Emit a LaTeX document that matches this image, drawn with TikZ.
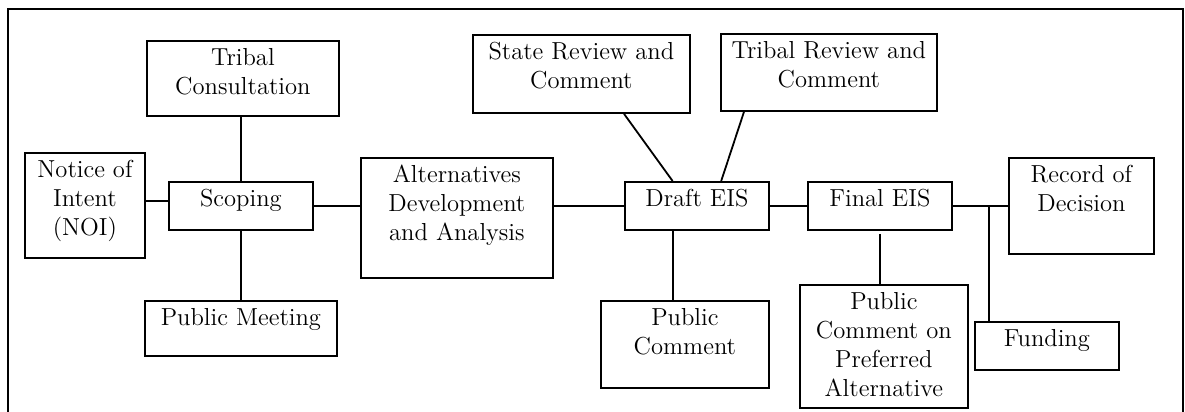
\documentclass[tikz,border=0pt]{standalone}
\usetikzlibrary{calc}
\tikzset{
  stage/.style={draw, line width=0.9pt, inner sep=0pt, anchor=north west,
    font=\fontsize{12.3}{14.5}\selectfont},
  link/.style={line width=0.9pt}
}
\newcommand{\stagetext}[3]{\parbox[c][#2][t]{#1}{\centering\vspace*{2pt}\strut #3\par}}
\begin{document}
\begin{tikzpicture}[x=0.5pt,y=-0.5pt]
\useasboundingbox (0,0) rectangle (1185,412);
\draw[line width=1.2pt] (8,412) -- (8,9) -- (1183,9) -- (1183,412);
% scoping stage
\node[stage] (tc) at (146,40) {\stagetext{96pt}{37.5pt}{Tribal\\Consultation}};
\node[stage] (noi) at (24,152) {\stagetext{60pt}{52.5pt}{Notice of\\Intent\\(NOI)}};
\node[stage] (scop) at (168,181) {\stagetext{72pt}{24pt}{Scoping}};
\node[stage] (pm) at (144,300) {\stagetext{96pt}{27.5pt}{Public Meeting}};
\node[stage] (alt) at (360,157) {\stagetext{96pt}{60pt}{Alternatives\\Development\\and Analysis}};
% draft stage
\node[stage] (srev) at (472,34) {\stagetext{108.5pt}{39pt}{State Review and\\Comment}};
\node[stage] (trev) at (720,33) {\stagetext{108pt}{38.5pt}{Tribal Review and\\Comment}};
\node[stage] (deis) at (624,181) {\stagetext{72pt}{24pt}{Draft EIS}};
\node[stage] (pc) at (600,300) {\stagetext{84pt}{43.5pt}{Public\\Comment}};
% final stage
\node[stage] (feis) at (807,181) {\stagetext{72pt}{24pt}{Final EIS}};
\node[stage] (pcpa) at (799,284) {\stagetext{84pt}{61.5pt}{Public\\Comment on\\Preferred\\Alternative}};
\node[stage] (rod) at (1008,157) {\stagetext{72.5pt}{48pt}{Record of\\Decision}};
\node[stage] (fund) at (974,321) {\stagetext{72pt}{24pt}{Funding}};
\coordinate (jn) at (989,207);

\draw[link] ([yshift=2.25pt]noi.east) coordinate (ns) -- (ns -| scop.west);
\draw[link] (scop.north) -- (scop.north |- tc.south);
\draw[link] (scop.south) -- (scop.south |- pm.north);
\draw[link] (scop.east) -- (scop.east -| alt.west);
\draw[link] (deis.west) -- (deis.west -| alt.east);
\draw[link] (srev.south -| deis.north west) -- ($(deis.north west)!1/3!(deis.north east)$);
\draw[link] ([xshift=12pt]trev.south west) -- ($(deis.north west)!2/3!(deis.north east)$);
\draw[link] ($(deis.south west)!1/3!(deis.south east)$) coordinate (dpc) -- (dpc |- pc.north);
\draw[link] (deis.east) -- (deis.east -| feis.west);
\draw[link] ([yshift=-1.5pt]feis.south) -- (feis.south |- pcpa.north);
\draw[link] (feis.east) -- (feis.east -| rod.west);
\draw[link] (jn) -- (jn |- fund.north);
\end{tikzpicture}
\end{document}
